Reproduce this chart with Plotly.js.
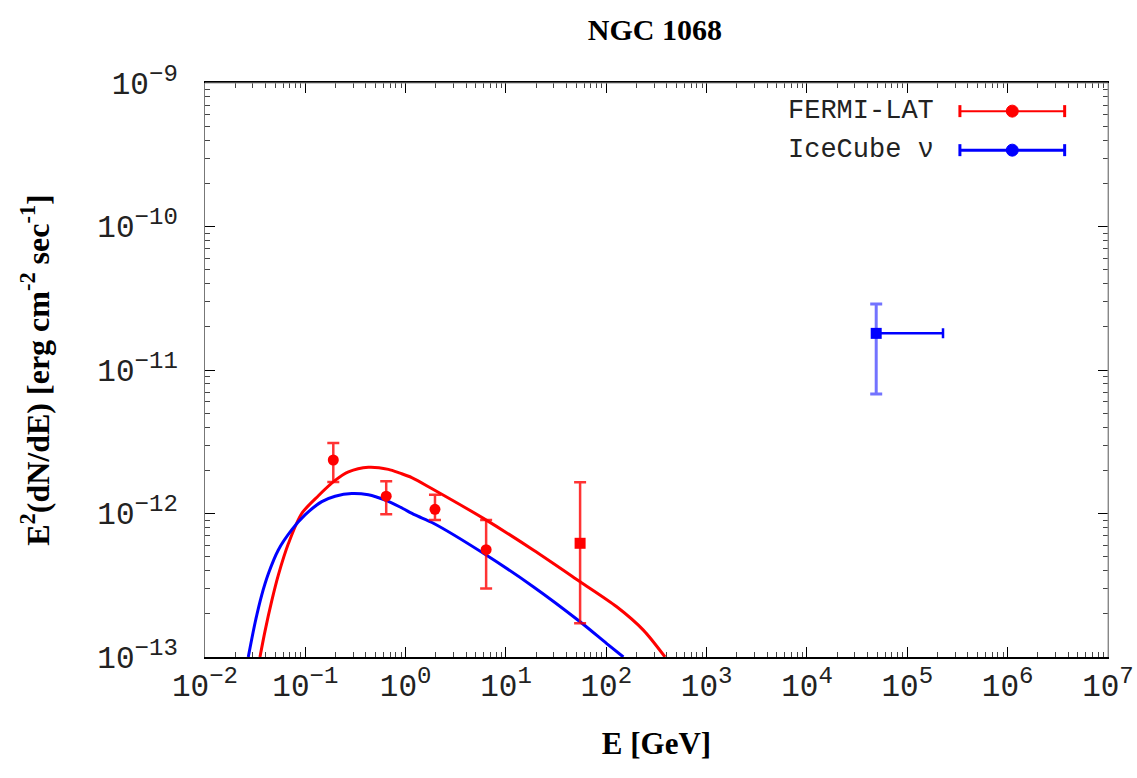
<!DOCTYPE html>
<html>
<head>
<meta charset="utf-8">
<script src="https://cdn.plot.ly/plotly-3.0.1.min.js"></script>
<style>html,body{margin:0;padding:0;background:#fff;}#chart{width:1137px;height:778px;}</style>
</head>
<body>
<div id="chart"></div>
<script>
// FERMI-LAT data points
const fermiE = [0.19, 0.64, 1.96, 6.34, 54.8];
const fermiF = [2.36e-12, 1.32e-12, 1.07e-12, 5.6e-13, 6.2e-13];
const fermiHi = [3.1e-12, 1.68e-12, 1.35e-12, 9.0e-13, 1.65e-12];
const fermiLo = [1.66e-12, 9.9e-13, 9.0e-13, 3.0e-13, 1.72e-13];

// IceCube neutrino point
const iceE = [4.9e4];
const iceF = [1.80e-11];
const iceHi = [2.88e-11];
const iceLo = [6.8e-12];
const iceEHi = [2.27e5];

// Model curves
const redCurveE = [0.0353, 0.0396, 0.0462, 0.0538, 0.0678, 0.092, 0.135, 0.198, 0.269, 0.425, 0.673, 0.879, 1.15, 1.89, 5.96, 18.7, 54.8, 127, 234, 385];
const redCurveF = [1e-13, 1.51e-13, 2.45e-13, 3.72e-13, 6.17e-13, 1.0e-12, 1.33e-12, 1.70e-12, 1.95e-12, 2.10e-12, 2.03e-12, 1.91e-12, 1.78e-12, 1.47e-12, 9.25e-13, 5.57e-13, 3.35e-13, 2.24e-13, 1.54e-13, 1e-13];
const blueCurveE = [0.0270, 0.0316, 0.0367, 0.0428, 0.0538, 0.0731, 0.0993, 0.146, 0.198, 0.290, 0.425, 0.624, 0.879, 1.24, 1.89, 5.96, 18.7, 54.8, 101, 148];
const blueCurveF = [1e-13, 1.74e-13, 2.69e-13, 3.80e-13, 5.57e-13, 7.68e-13, 9.77e-13, 1.21e-12, 1.32e-12, 1.38e-12, 1.35e-12, 1.24e-12, 1.11e-12, 9.77e-13, 8.55e-13, 5.28e-13, 3.09e-13, 1.76e-13, 1.24e-13, 1e-13];

// Tick labels
const supStyle = '<span style="font-size:24px">';
const xTickVals = [1e-2, 1e-1, 1e0, 1e1, 1e2, 1e3, 1e4, 1e5, 1e6, 1e7];
const xTickExp = ['\u22122', '\u22121', '0', '1', '2', '3', '4', '5', '6', '7'];
const yTickVals = [1e-13, 1e-12, 1e-11, 1e-10, 1e-9];
const yTickExp = ['\u221213', '\u221212', '\u221211', '\u221210', '\u22129'];
const xTickText = xTickExp.map(e => '10<sup>' + supStyle + e + '</span></sup>');
const yTickText = yTickExp.map(e => '10<sup>' + supStyle + e + '</span></sup>');

const legendNames = ['FERMI-LAT', 'IceCube \u03bd'];

const RED = '#ff0000', BLUE = '#0000ff';
const mono = 'Liberation Mono, Courier New, monospace';
const serif = 'Liberation Serif, Times New Roman, serif';

const traces = [
  {x: redCurveE, y: redCurveF, mode: 'lines', line: {color: RED, width: 3, shape: 'spline', smoothing: 0.8}, showlegend: false, hoverinfo: 'skip'},
  {x: blueCurveE, y: blueCurveF, mode: 'lines', line: {color: BLUE, width: 3, shape: 'spline', smoothing: 0.8}, showlegend: false, hoverinfo: 'skip'},
  {x: fermiE, y: fermiF, mode: 'markers', name: legendNames[0], showlegend: false,
   marker: {color: RED, size: 11, symbol: ['circle','circle','circle','circle','square']},
   error_y: {type: 'data', symmetric: false,
     array: fermiF.map((v, i) => fermiHi[i] - v),
     arrayminus: fermiF.map((v, i) => v - fermiLo[i]),
     color: 'rgba(255,0,0,0.8)', thickness: 2.5, width: 6}},
  {x: iceE, y: iceF, mode: 'markers', name: legendNames[1], showlegend: false,
   marker: {color: BLUE, size: 11, symbol: 'square'},
   error_y: {type: 'data', symmetric: false,
     array: iceF.map((v, i) => iceHi[i] - v),
     arrayminus: iceF.map((v, i) => v - iceLo[i]),
     color: 'rgba(0,0,255,0.55)', thickness: 3, width: 6},
   error_x: {type: 'data', symmetric: false,
     array: iceE.map((v, i) => iceEHi[i] - v),
     arrayminus: iceE.map(() => 0),
     color: BLUE, thickness: 2.5, width: 5}}
];

// Legend built from shapes/annotations (text left, symbol right)
const legX0 = 0.836, legX1 = 0.952, legXm = 0.894;
const legY = [0.951, 0.883];
const legColors = [RED, BLUE];
const shapes = [];
const annotations = [];
legY.forEach((y, i) => {
  shapes.push({type: 'line', xref: 'paper', yref: 'paper', x0: legX0, x1: legX1, y0: y, y1: y, line: {color: legColors[i], width: i === 0 ? 2 : 3}});
  [legX0, legX1].forEach(xx => shapes.push({type: 'line', xref: 'paper', yref: 'paper', ysizemode: 'pixel', yanchor: y, x0: xx, x1: xx, y0: -6, y1: 6, line: {color: legColors[i], width: 3}}));
  shapes.push({type: 'circle', xref: 'paper', yref: 'paper', xsizemode: 'pixel', ysizemode: 'pixel', xanchor: legXm, yanchor: y, x0: -6, x1: 6, y0: -6, y1: 6, fillcolor: legColors[i], line: {color: legColors[i], width: 1}});
  annotations.push({xref: 'paper', yref: 'paper', x: 0.81, y: y, xanchor: 'right', yanchor: 'middle', showarrow: false, text: legendNames[i], font: {family: mono, size: 27, color: '#222'}});
});
// Frame: light top/right borders
shapes.push({type: 'line', xref: 'paper', yref: 'paper', x0: 0, x1: 1, y0: 1, y1: 1, line: {color: '#999', width: 1}});
shapes.push({type: 'line', xref: 'paper', yref: 'paper', x0: 1, x1: 1, y0: 0, y1: 1, line: {color: '#999', width: 1}});

const layout = {
  width: 1137, height: 778,
  margin: {l: 205, r: 29, t: 83, b: 121},
  paper_bgcolor: '#fff', plot_bgcolor: '#fff',
  showlegend: false,
  title: {text: '<b>NGC 1068</b>', x: 0.576, xanchor: 'center', y: 0.962, yanchor: 'middle', font: {family: serif, size: 30, color: '#000'}},
  xaxis: {
    type: 'log', range: [-2, 7.0005],
    tickmode: 'array', tickvals: xTickVals, ticktext: xTickText,
    ticks: 'inside', ticklen: 10, tickwidth: 1, tickcolor: '#000',
    minor: {ticks: 'inside', ticklen: 5, tickcolor: '#444', showgrid: false, dtick: 'D1'},
    showline: true, linecolor: '#000', linewidth: 2, mirror: 'ticks',
    showgrid: false, zeroline: false,
    tickfont: {family: mono, size: 31, color: '#222'},
    ticklabelstandoff: 0,
    title: {text: '<b>E [GeV]</b>', font: {family: serif, size: 31, color: '#000'}, standoff: 28}
  },
  yaxis: {
    type: 'log', range: [-13, -9],
    tickmode: 'array', tickvals: yTickVals, ticktext: yTickText,
    ticks: 'inside', ticklen: 10, tickwidth: 1, tickcolor: '#000',
    minor: {ticks: 'inside', ticklen: 5, tickcolor: '#444', showgrid: false, dtick: 'D1'},
    showline: true, linecolor: '#777', linewidth: 1, mirror: 'ticks',
    showgrid: false, zeroline: false,
    tickfont: {family: mono, size: 31, color: '#222'},
    ticklabelstandoff: 20,
    title: {text: '<b>E<sup>2</sup>(dN/dE) [erg cm<sup>-2</sup> sec<sup>-1</sup>]</b>', font: {family: serif, size: 32, color: '#000'}, standoff: 38}
  },
  shapes: shapes,
  annotations: annotations
};

Plotly.newPlot('chart', traces, layout, {displayModeBar: false, staticPlot: true});
</script>
</body>
</html>
